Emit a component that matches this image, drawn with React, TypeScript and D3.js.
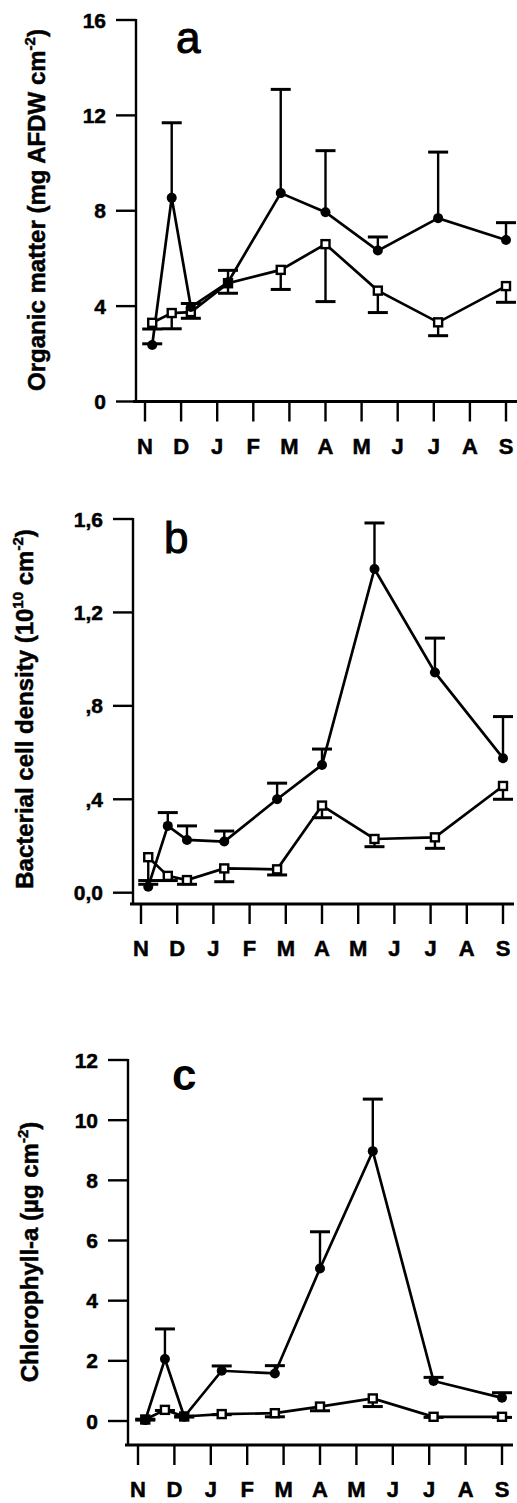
import React from 'react';
import * as d3 from 'd3';

// month labels on the x axis (Nov .. Sep)
const months = ['N', 'D', 'J', 'F', 'M', 'A', 'M', 'J', 'J', 'A', 'S'];
// sampling dates as fractional month index from N
const sampleMonth = [0.2, 0.74, 1.27, 2.3, 3.76, 5.0, 6.45, 8.12, 10.0];

// panel a - organic matter
const omTicks = [0, 4, 8, 12, 16];
const omTickLabels = ['0', '4', '8', '12', '16'];
const omFilled = [2.37, 8.54, 3.96, 5.0, 8.74, 7.94, 6.33, 7.69, 6.77];
const omFilledErr = [0.05, 3.15, 0.15, 0.5, 4.35, 2.58, 0.57, 2.77, 0.73];
const omOpen = [3.3, 3.71, 3.75, 4.96, 5.52, 6.6, 4.65, 3.32, 4.84];
const omOpenErr = [0.26, 0.66, 0.26, 0.42, 0.82, 2.41, 0.92, 0.56, 0.68];

// panel b - bacterial cell density
const bactTicks = [0, 0.4, 0.8, 1.2, 1.6];
const bactTickLabels = ['0,0', ',4', ',8', '1,2', '1,6'];
const bactFilled = [0.026, 0.286, 0.226, 0.219, 0.4, 0.547, 1.386, 0.943, 0.576];
const bactFilledErr = [0.01, 0.057, 0.06, 0.045, 0.069, 0.068, 0.197, 0.147, 0.178];
const bactOpen = [0.152, 0.072, 0.054, 0.104, 0.1, 0.373, 0.23, 0.237, 0.457];
const bactOpenErr = [0.1, 0.02, 0.018, 0.057, 0.024, 0.052, 0.033, 0.047, 0.057];

// panel c - chlorophyll-a
const chlTicks = [0, 2, 4, 6, 8, 10, 12];
const chlTickLabels = ['0', '2', '4', '6', '8', '10', '12'];
const chlFilled = [0.03, 2.06, 0.14, 1.67, 1.58, 5.07, 8.97, 1.33, 0.77];
const chlFilledErr = [0.03, 1.0, 0.02, 0.16, 0.26, 1.22, 1.73, 0.12, 0.17];
const chlOpen = [0.05, 0.37, 0.15, 0.23, 0.26, 0.48, 0.75, 0.14, 0.14];
const chlOpenErr = [0.02, 0.02, 0.02, 0.02, 0.12, 0.14, 0.27, 0.02, 0.02];

const FONT = '"Liberation Sans", Arial, Helvetica, sans-serif';

type Label = { parts: { t: string; sup?: boolean }[] };

const Panel = ({ axisX, yTop, yZero, xAxisY, nX, sX, domain, ticks, tickLabels,
  filled, filledErr, open, openErr, letter, letterX, letterY, letterBold,
  label, labelX, labelY }: any) => {
  const x = d3.scaleLinear().domain([0, 10]).range([nX, sX]);
  const y = d3.scaleLinear().domain(domain).range([yZero, yTop]);
  const line = d3.line<number>().x((_, i) => x(sampleMonth[i])).y(d => y(d));
  const cap = 10;

  return (
    <g>
      {/* y axis */}
      <line x1={axisX} x2={axisX} y1={yTop - 1} y2={xAxisY} stroke="#000" strokeWidth={2.4} />
      {ticks.map((t: number, i: number) => (
        <g key={'yt' + i}>
          <line x1={axisX - 20} x2={axisX} y1={y(t)} y2={y(t)} stroke="#000" strokeWidth={2.4} />
          <text x={axisX - 30} y={y(t)} dy="0.36em" textAnchor="end" fontSize={21}
            fontWeight="bold" fontFamily={FONT} stroke="#000" strokeWidth={0.5}>{tickLabels[i]}</text>
        </g>
      ))}
      {/* x axis */}
      <line x1={axisX - 3} x2={sX + 11} y1={xAxisY} y2={xAxisY} stroke="#000" strokeWidth={3} />
      {months.map((m, i) => (
        <g key={'xt' + i}>
          <line x1={x(i)} x2={x(i)} y1={xAxisY} y2={xAxisY + 20} stroke="#000" strokeWidth={2.4} />
          <text x={x(i)} y={xAxisY + 52} textAnchor="middle" fontSize={22}
            fontWeight="bold" fontFamily={FONT} stroke="#000" strokeWidth={0.5}>{m}</text>
        </g>
      ))}

      {/* error bars: filled up, open down */}
      {filled.map((v: number, i: number) => {
        const px = x(sampleMonth[i]);
        const top = y(v + filledErr[i]);
        return (
          <g key={'fe' + i}>
            <line x1={px} x2={px} y1={y(v)} y2={top} stroke="#000" strokeWidth={2.4} />
            <line x1={px - cap} x2={px + cap} y1={top} y2={top} stroke="#000" strokeWidth={3} />
          </g>
        );
      })}
      {open.map((v: number, i: number) => {
        const px = x(sampleMonth[i]);
        const bot = y(v - openErr[i]);
        return (
          <g key={'oe' + i}>
            <line x1={px} x2={px} y1={y(v)} y2={bot} stroke="#000" strokeWidth={2.4} />
            <line x1={px - cap} x2={px + cap} y1={bot} y2={bot} stroke="#000" strokeWidth={3} />
          </g>
        );
      })}

      <path d={line(open) || ''} fill="none" stroke="#000" strokeWidth={2.7} />
      <path d={line(filled) || ''} fill="none" stroke="#000" strokeWidth={2.7} />

      {open.map((v: number, i: number) => (
        <rect key={'om' + i} x={x(sampleMonth[i]) - 4} y={y(v) - 4} width={8} height={8}
          fill="#fff" stroke="#000" strokeWidth={2.4} />
      ))}
      {filled.map((v: number, i: number) => (
        <circle key={'fm' + i} cx={x(sampleMonth[i])} cy={y(v)} r={5} fill="#000" />
      ))}

      <text x={letterX} y={letterY} fontSize={44} fontWeight={letterBold ? 'bold' : 'normal'}
        fontFamily={FONT} stroke="#000" strokeWidth={letterBold ? 0 : 1}>{letter}</text>

      <text transform={`translate(${labelX},${labelY}) rotate(-90)`} textAnchor="middle"
        fontSize={24} fontWeight="bold" fontFamily={FONT} stroke="#000" strokeWidth={0.5}>
        {(label as Label).parts.map((p, i) =>
          p.sup ? (
            <tspan key={i} fontSize={15} dy={-10}>{p.t}</tspan>
          ) : (
            <tspan key={i} dy={i > 0 && label.parts[i - 1].sup ? 10 : 0}>{p.t}</tspan>
          )
        )}
      </text>
    </g>
  );
};

export default function App() {
  return (
    <svg width={517} height={1503} style={{ position: 'absolute', left: 0, top: 0, background: '#fff' }}>
      <Panel axisX={136} yTop={20} yZero={401.5} xAxisY={401.5} nX={145} sX={506}
        domain={[0, 16]} ticks={omTicks} tickLabels={omTickLabels}
        filled={omFilled} filledErr={omFilledErr} open={omOpen} openErr={omOpenErr}
        letter="a" letterX={176} letterY={53}
        label={{ parts: [{ t: 'Organic matter (mg AFDW cm' }, { t: '-2', sup: true }, { t: ')' }] }}
        labelX={45} labelY={210} />
      <Panel axisX={133} yTop={519} yZero={892.7} xAxisY={904} nX={141} sX={503}
        domain={[0, 1.6]} ticks={bactTicks} tickLabels={bactTickLabels}
        filled={bactFilled} filledErr={bactFilledErr} open={bactOpen} openErr={bactOpenErr}
        letter="b" letterX={164} letterY={553}
        label={{ parts: [{ t: 'Bacterial cell density (10' }, { t: '10', sup: true }, { t: ' cm' }, { t: '-2', sup: true }, { t: ')' }] }}
        labelX={33} labelY={709} />
      <Panel axisX={128} yTop={1060} yZero={1421} xAxisY={1445} nX={138} sX={502}
        domain={[0, 12]} ticks={chlTicks} tickLabels={chlTickLabels}
        filled={chlFilled} filledErr={chlFilledErr} open={chlOpen} openErr={chlOpenErr}
        letter="c" letterX={172} letterY={1090} letterBold
        label={{ parts: [{ t: 'Chlorophyll-a (µg cm' }, { t: '-2', sup: true }, { t: ')' }] }}
        labelX={38} labelY={1252} />
    </svg>
  );
}
